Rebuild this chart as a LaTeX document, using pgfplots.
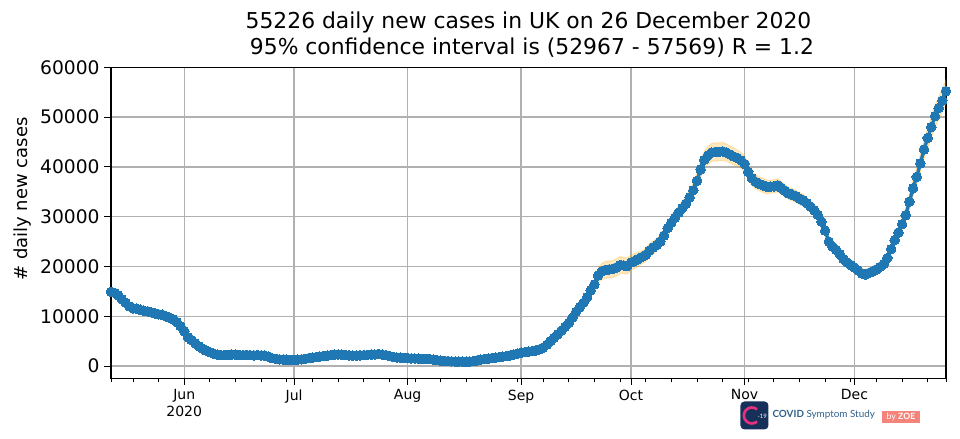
\documentclass[border=0pt]{standalone}
\usepackage{fontspec}
\setmainfont{DejaVu Sans}
\newfontfamily\logofont{Lato}
\usepackage{pgfplots}
\usepackage{pgfplotstable}
\pgfplotsset{compat=1.18}
\definecolor{mplblue}{HTML}{1F77B4}
\definecolor{mplgrid}{HTML}{B0B0B0}
\definecolor{cvnavy}{HTML}{16305A}
\definecolor{cvtext}{HTML}{2F5F8A}
\definecolor{zoesalmon}{HTML}{F4837A}
\definecolor{cvpink}{HTML}{E8317E}
\definecolor{band}{HTML}{FFA500}
\pgfplotstableread{
d y e
132 14900 700
133 14700 700
134 14200 700
135 13400 650
136 12700 600
137 12000 600
138 11600 550
139 11500 550
140 11300 550
141 11100 550
142 11000 500
143 10800 500
144 10600 500
145 10400 500
146 10300 500
147 10000 450
148 9700 450
149 9400 450
150 8800 400
151 8000 400
152 7000 350
153 5800 300
154 5200 250
155 4600 250
156 4000 200
157 3500 200
158 3100 150
159 2800 150
160 2500 150
161 2300 120
162 2200 120
163 2200 120
164 2250 120
165 2300 120
166 2300 120
167 2250 120
168 2200 120
169 2250 120
170 2200 120
171 2150 120
172 2200 120
173 2150 120
174 2100 120
175 1900 120
176 1600 100
177 1450 100
178 1350 100
179 1300 100
180 1300 100
181 1250 100
182 1250 100
183 1300 100
184 1350 100
185 1450 100
186 1600 100
187 1700 100
188 1800 100
189 1900 100
190 2000 100
191 2100 100
192 2200 100
193 2300 100
194 2350 100
195 2300 100
196 2200 100
197 2150 100
198 2100 100
199 2100 100
200 2150 100
201 2200 100
202 2250 100
203 2300 100
204 2350 100
205 2400 100
206 2300 100
207 2200 100
208 2000 100
209 1850 100
210 1750 100
211 1700 100
212 1650 100
213 1600 100
214 1550 100
215 1500 100
216 1500 100
217 1450 100
218 1450 100
219 1400 100
220 1300 100
221 1200 100
222 1100 100
223 1050 100
224 1000 100
225 950 100
226 900 100
227 900 100
228 880 100
229 870 100
230 900 100
231 1000 100
232 1150 100
233 1300 100
234 1400 100
235 1500 100
236 1600 100
237 1700 100
238 1800 100
239 1900 100
240 2000 100
241 2150 100
242 2300 120
243 2500 120
244 2700 150
245 2800 150
246 2900 150
247 3000 150
248 3150 200
249 3350 200
250 3700 200
251 4300 250
252 5000 300
253 5700 300
254 6400 350
255 7100 400
256 7900 400
257 8700 450
258 9700 500
259 10900 550
260 11800 600
261 12700 700
262 13800 800
263 15200 900
264 16400 1100
265 18200 1400
266 19000 1600
267 19300 1700
268 19400 1700
269 19500 1700
270 19800 1700
271 20300 1700
272 20200 1600
273 20100 1600
274 20800 1500
275 21100 1500
276 21500 1400
277 21900 1300
278 22300 1300
279 23200 1300
280 23800 1300
281 24300 1300
282 25000 1300
283 26200 1300
284 27700 1300
285 28800 1300
286 29800 1300
287 30800 1300
288 31700 1400
289 32600 1400
290 33900 1400
291 35300 1500
292 37200 1500
293 39500 1600
294 41400 1700
295 42300 1800
296 42900 1800
297 43000 1800
298 43000 1800
299 43100 1800
300 42900 1700
301 42500 1700
302 42100 1700
303 41800 1600
304 41300 1600
305 40600 1600
306 39000 1500
307 37700 1500
308 37000 1400
309 36600 1400
310 36300 1400
311 36000 1400
312 36000 1300
313 36100 1300
314 36300 1300
315 35800 1300
316 35200 1300
317 34700 1200
318 34400 1200
319 34100 1200
320 33600 1200
321 33300 1200
322 32700 1200
323 32000 1200
324 31300 1100
325 30400 1100
326 29000 1100
327 27200 1100
328 25000 1000
329 24000 1000
330 23300 1000
331 22500 1000
332 21500 1000
333 20800 1000
334 20300 1000
335 19800 1000
336 19200 1000
337 18600 1000
338 18400 1000
339 18700 1000
340 19000 1000
341 19400 1000
342 19900 1000
343 20500 1000
344 21700 1100
345 23500 1100
346 25300 1200
347 26800 1300
348 28500 1400
349 30300 1400
350 33000 1500
351 35700 1600
352 38000 1700
353 40700 1800
354 43500 1900
355 45800 2000
356 48000 2100
357 50200 2200
358 51800 2200
359 53300 2300
360 55226 2300
}\mydata
\begin{document}
\begin{tikzpicture}
\begin{axis}[
  at={(0,0)}, anchor=south west,
  scale only axis, width=626.25pt, height=233.25pt,
  xmin=132, xmax=360, ymin=-2450, ymax=60000,
  xtick={152,182,213,244,274,305,335},
  xticklabels={{Jun\\2020},Jul,Aug,Sep,Oct,Nov,Dec},
  minor xtick={132,138,145,159,166,173,180,187,194,201,208,215,222,229,236,243,250,257,264,271,278,285,292,299,306,313,320,327,334,341,348,355,360},
  ytick={0,10000,20000,30000,40000,50000,60000},
  yticklabels={0,10000,20000,30000,40000,50000,60000},
  scaled y ticks=false,
  xtick pos=bottom, ytick pos=left,
  tick align=outside,
  major tick length=5pt, minor tick length=3pt,
  tick style={black, line width=0.8pt},
  minor tick style={black, line width=0.6pt},
  axis line style={black, line width=0.8pt},
  xmajorgrids, ymajorgrids,
  major grid style={mplgrid, line width=1.1pt},
  xticklabel style={font=\fontsize{10.5}{12.5}\selectfont, align=center},
  yticklabel style={font=\fontsize{14}{16}\selectfont},
  ylabel={\# daily new cases},
  ylabel style={at={(ticklabel cs:0.576)}, font=\fontsize{13.5}{16}\selectfont},
  title={55226 daily new cases in UK on 26 December 2020\\ \ 95\% confidence interval is (52967 - 57569) R = 1.2},
  title style={align=center, yshift=-2pt, font=\fontsize{16.4}{19}\selectfont},
]
\addplot[draw=none, stack plots=y, forget plot] table[x=d, y expr=\thisrow{y}-\thisrow{e}] {\mydata};
\addplot[fill=band, fill opacity=0.25, draw=band, draw opacity=0.25, line width=0.8pt, stack plots=y, forget plot] table[x=d, y expr=2*\thisrow{e}] {\mydata} \closedcycle;
\addplot[mplblue, line width=2.5pt, mark=*, mark size=3.6pt, mark options={fill=mplblue, draw=mplblue, line width=0pt}] table[x=d, y=y] {\mydata};
\end{axis}
% logo
\node[fill=cvnavy, rounded corners=3pt, minimum size=21pt, inner sep=0pt] at (482.6pt,-27.9pt) {};
\draw[cvpink, line width=2pt] (484.5pt,-23.3pt) arc[start angle=50, end angle=310, radius=6pt];
\node[text=white, inner sep=0pt, font=\logofont\fontsize{4.5}{5}\selectfont] at (488.5pt,-28.2pt) {-19};
\node[anchor=west, inner sep=0pt, text=cvtext, font=\logofont\fontsize{7.4}{8}\selectfont] at (496pt,-27.6pt) {\textbf{COVID} Symptom Study};
\node[fill=zoesalmon, text=white, minimum width=28.5pt, minimum height=9pt, inner sep=0.5pt, font=\logofont\fontsize{6.5}{7}\selectfont] at (592.5pt,-28.8pt) {by \textbf{ZOE}};
\path (-83.25pt,-45.5pt) rectangle (636.75pt,283.7pt);
\end{tikzpicture}
\end{document}
